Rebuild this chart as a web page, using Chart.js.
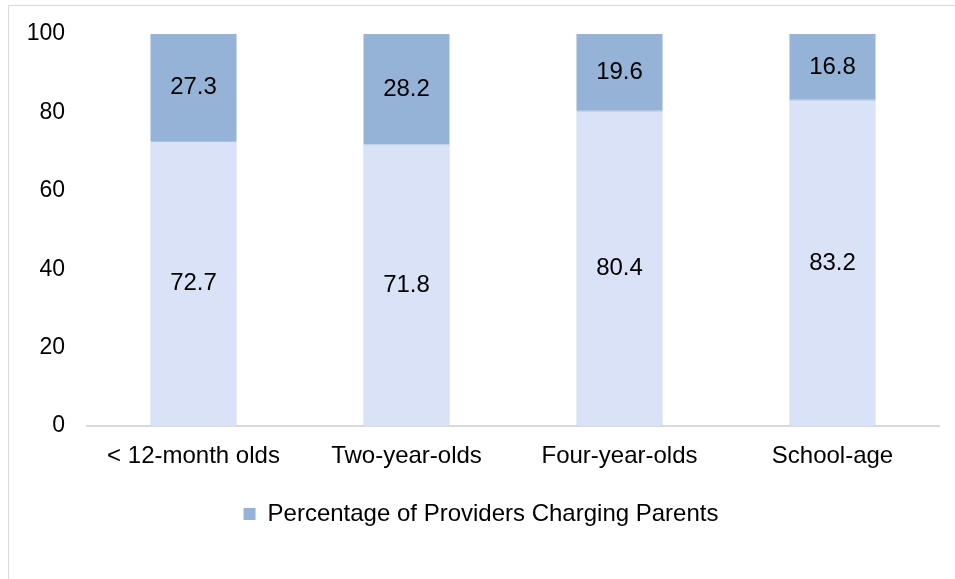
<!DOCTYPE html>
<html>
<head>
<meta charset="utf-8">
<script src="https://cdn.jsdelivr.net/npm/chart.js@4.4.1/dist/chart.umd.min.js"></script>
<style>
  body { margin: 0; background: #fff; }
  #wrap { position: relative; width: 955px; height: 579px; }
  #frame { position: absolute; left: 8px; top: 5px; width: 960px; height: 600px;
           border-top: 1px solid #d9d9d9; border-left: 1px solid #d9d9d9; }
  canvas { position: absolute; left: 0; top: 0; }
</style>
</head>
<body>
<div id="wrap">
  <div id="frame"></div>
  <canvas id="chart" width="955" height="579"></canvas>
</div>
<script>
const categories = ['< 12-month olds', 'Two-year-olds', 'Four-year-olds', 'School-age'];
const notCharging = [72.7, 71.8, 80.4, 83.2];
const charging = [27.3, 28.2, 19.6, 16.8];
const yTicks = [0, 20, 40, 60, 80, 100];

const fontFamily = '"Liberation Sans", Arial, sans-serif';

// write the value in the middle of every bar segment
const barLabels = {
  id: 'barLabels',
  afterDatasetsDraw(chart) {
    const ctx = chart.ctx;
    ctx.save();
    ctx.font = '24px ' + fontFamily;
    ctx.fillStyle = '#000';
    ctx.textAlign = 'center';
    ctx.textBaseline = 'middle';
    chart.data.datasets.forEach((ds, i) => {
      const meta = chart.getDatasetMeta(i);
      meta.data.forEach((bar, j) => {
        const p = bar.getProps(['x', 'y', 'base'], true);
        ctx.fillText(ds.data[j].toFixed(1), p.x, (p.y + p.base) / 2);
      });
    });
    ctx.restore();
  }
};

new Chart(document.getElementById('chart'), {
  type: 'bar',
  data: {
    labels: categories,
    datasets: [
      {
        label: 'Not charging',
        data: notCharging,
        backgroundColor: '#D9E2F6',
        borderColor: '#A9C0E2',
        borderWidth: 1,
        borderSkipped: 'bottom',
        categoryPercentage: 0.8,
        barPercentage: 0.505
      },
      {
        label: 'Percentage of Providers Charging Parents',
        data: charging,
        backgroundColor: '#95B3D7',
        borderWidth: 0,
        categoryPercentage: 0.8,
        barPercentage: 0.505
      }
    ]
  },
  options: {
    responsive: false,
    animation: false,
    layout: { padding: { top: 34, right: 16, bottom: 43, left: 23 } },
    plugins: {
      legend: {
        position: 'bottom',
        labels: {
          filter: item => item.datasetIndex === 1,
          boxWidth: 12,
          boxHeight: 12,
          color: '#000',
          font: { size: 24, family: fontFamily }
        }
      },
      tooltip: { enabled: false }
    },
    scales: {
      x: {
        stacked: true,
        grid: { display: false, drawTicks: false },
        border: { color: '#d9d9d9', width: 2 },
        ticks: { color: '#000', padding: 16, font: { size: 24, family: fontFamily } },
        afterFit: s => { s.height = 66; }
      },
      y: {
        stacked: true,
        min: 0,
        max: 100,
        afterBuildTicks: s => { s.ticks = yTicks.map(v => ({ value: v })); },
        grid: { display: false, drawTicks: false },
        border: { display: false },
        ticks: { color: '#000', padding: 22, font: { size: 23, family: fontFamily } },
        afterFit: s => { s.width = 64; s.paddingTop = 0; s.paddingBottom = 0; }
      }
    }
  },
  plugins: [barLabels]
});
</script>
</body>
</html>
